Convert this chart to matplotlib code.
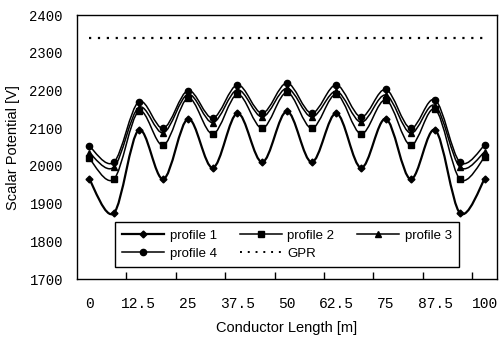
import numpy as np
import matplotlib
matplotlib.use("Agg")
import matplotlib.pyplot as plt
from matplotlib.path import Path
from matplotlib.patches import PathPatch
from matplotlib.lines import Line2D

# Données (points tous les 6.25 m)
positions = [0, 6.25, 12.5, 18.75, 25, 31.25, 37.5, 43.75, 50,
             56.25, 62.5, 68.75, 75, 81.25, 87.5, 93.75, 100]
tick_labels = ["0", "12.5", "25", "37.5", "50", "62.5", "75", "87.5", "100"]

profile_1 = [1965, 1875, 2095, 1965, 2125, 1995, 2140, 2010, 2145,
             2010, 2140, 1995, 2125, 1965, 2095, 1875, 1965]
profile_2 = [2020, 1965, 2145, 2055, 2180, 2085, 2190, 2100, 2195,
             2100, 2190, 2085, 2175, 2055, 2150, 1965, 2023]
profile_3 = [2035, 1997, 2155, 2088, 2190, 2115, 2202, 2130, 2206,
             2130, 2198, 2116, 2188, 2087, 2160, 1997, 2037]
profile_4 = [2053, 2010, 2170, 2100, 2200, 2127, 2215, 2140, 2220,
             2140, 2215, 2130, 2203, 2100, 2175, 2010, 2055]
gpr = 2340

plt.rcParams['font.family'] = ['Liberation Sans', 'DejaVu Sans']


def smooth_path(x, y):
    """Courbe lissée type Excel (Bézier cubique, tension 1/6)"""
    pts = np.column_stack([x, y]).astype(float)
    n = len(pts)
    verts = [pts[0]]
    codes = [Path.MOVETO]
    for i in range(n - 1):
        p0 = pts[max(i - 1, 0)]
        p1 = pts[i]
        p2 = pts[i + 1]
        p3 = pts[min(i + 2, n - 1)]
        c1 = p1 + (p2 - p0) / 6.0
        c2 = p2 - (p3 - p1) / 6.0
        verts += [c1, c2, p2]
        codes += [Path.CURVE4] * 3
    return Path(verts, codes)


fig = plt.figure(figsize=(4.99, 3.37), dpi=100)
ax = fig.add_axes([0.154, 0.172, 0.842, 0.783])

x = np.arange(len(positions))
series = [
    (profile_1, "D", 3.5, 1.6, "profile 1"),
    (profile_2, "s", 4.0, 1.1, "profile 2"),
    (profile_3, "^", 4.5, 1.1, "profile 3"),
    (profile_4, "o", 4.5, 1.1, "profile 4"),
]
handles = {}
for vals, mk, ms, lw, name in series:
    ax.add_patch(PathPatch(smooth_path(x, vals), facecolor="none",
                           edgecolor="black", lw=lw, zorder=3))
    ax.plot(x, vals, linestyle="none", marker=mk, ms=ms, color="black", zorder=4)
    handles[name] = Line2D([], [], color="black", lw=lw, marker=mk, ms=ms)

# GPR sur toute la longueur du conducteur
ax.plot(x, [gpr] * len(x), color="black", lw=1.6, linestyle=(0, (1, 3)))
handles["GPR"] = Line2D([], [], color="black", lw=1.4, linestyle=(0, (1, 3)))

ax.set_xlim(-0.5, 16.5)
ax.set_ylim(1700, 2400)

ax.set_xticks(x[::2])
ax.set_xticklabels(tick_labels, family="Liberation Mono", fontsize=10.5)
ax.set_xticks(np.arange(1.5, 16, 2), minor=True)
ax.tick_params(axis="x", which="major", length=0, pad=13)
ax.tick_params(axis="x", which="minor", direction="in", length=5, width=1)
ax.set_yticks(np.arange(1700, 2401, 100))
ax.set_yticklabels([str(v) for v in range(1700, 2401, 100)],
                   family="Liberation Mono", fontsize=10)
ax.tick_params(axis="y", length=0, pad=10)

for s in ax.spines.values():
    s.set_linewidth(1.0)

ax.set_xlabel("Conductor Length [m]", fontsize=10.5)
ax.xaxis.set_label_coords(0.5, -0.16)
ax.set_ylabel("Scalar Potential [V]", fontsize=10.5)
ax.yaxis.set_label_coords(-0.135, 0.5)

order = ["profile 1", "profile 4", "profile 2", "GPR", "profile 3"]
leg = ax.legend([handles[k] for k in order], order, loc="lower left",
                bbox_to_anchor=(0.0905, 0.045, 0.8185, 0.167), mode="expand",
                ncol=3, fontsize=9.5, handlelength=3.2, handletextpad=0.4,
                labelspacing=0.45, borderaxespad=0, borderpad=0.55,
                fancybox=False, framealpha=1, edgecolor="black")
leg.get_frame().set_linewidth(1.0)

plt.savefig("out.png", dpi=100)
